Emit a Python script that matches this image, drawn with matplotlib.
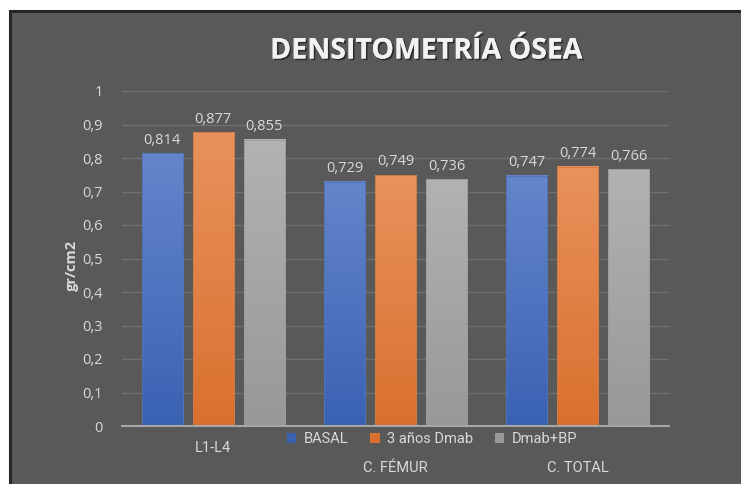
import numpy as np
import matplotlib
matplotlib.use('Agg')
import matplotlib.pyplot as plt
from matplotlib.patches import Rectangle
from matplotlib.colors import LinearSegmentedColormap
import matplotlib.patheffects as pe

categories = ['L1-L4', 'C. FÉMUR', 'C. TOTAL']
series_names = ['BASAL', '3 años Dmab', 'Dmab+BP']
basal = [0.814, 0.729, 0.747]
dmab_3 = [0.877, 0.749, 0.774]
dmab_bp = [0.855, 0.736, 0.766]
y_ticks = [0, 0.1, 0.2, 0.3, 0.4, 0.5, 0.6, 0.7, 0.8, 0.9, 1]

bg = '#595959'
txt = '#d9d9d9'
# (top, bottom, edge) colours for the gradient fill
colours = [('#6585cb', '#3a62b3', '#5373b8'),
           ('#e9925c', '#d9702f', '#d07a45'),
           ('#b2b2b2', '#989898', '#9c9c9c')]
narrow = ['Roboto', 'DejaVu Sans']

plt.rcParams['font.family'] = ['Open Sans', 'DejaVu Sans']

fig = plt.figure(figsize=(7.41, 4.84), dpi=100, facecolor='white')
fig.patches.append(Rectangle((9.5 / 741, -0.1), 1.0, 1 - 11.5 / 484 + 0.1,
                             transform=fig.transFigure, facecolor=bg,
                             edgecolor='#262626', linewidth=2.2, zorder=-5))

ax = fig.add_axes([122 / 741, 1 - 426 / 484, 547 / 741, 335 / 484])
ax.set_facecolor('none')

x = np.arange(len(categories))
width = 0.225
step = 0.28
all_series = [basal, dmab_3, dmab_bp]

for i, vals in enumerate(all_series):
    top_c, bot_c, edge_c = colours[i]
    cmap = LinearSegmentedColormap.from_list('g%d' % i, [bot_c, top_c])
    bars = ax.bar(x + (i - 1) * step, vals, width, facecolor='none',
                  edgecolor=edge_c, linewidth=0.7, zorder=3, label=series_names[i])
    for b in bars:
        x0, h = b.get_x(), b.get_height()
        grad = np.linspace(0, 1, 256).reshape(-1, 1)
        ax.imshow(grad, cmap=cmap, origin='lower', aspect='auto', interpolation='bilinear',
                  extent=[x0, x0 + b.get_width(), 0, h], zorder=2)
        ax.text(x0 + b.get_width() / 2, h + 0.017, ('%.3f' % h).replace('.', ','),
                ha='center', va='bottom', color=txt, fontsize=10.5)

ax.set_xlim(-0.5, 2.5)
ax.set_ylim(0, 1)
ax.set_yticks(y_ticks)
ax.set_yticklabels([('%g' % v).replace('.', ',') for v in y_ticks])
ax.yaxis.grid(True, color='#6f6f6f', linewidth=1.0, zorder=0)
ax.set_axisbelow(True)
for s in ['top', 'right', 'left']:
    ax.spines[s].set_visible(False)
ax.spines['bottom'].set_color('#a6a6a6')
ax.spines['bottom'].set_linewidth(1.5)
ax.spines['bottom'].set_zorder(4)
ax.tick_params(axis='y', length=0, pad=14, labelcolor=txt, labelsize=10.5)
ax.tick_params(axis='x', length=0, pad=11, labelcolor=txt, labelsize=10.5)
ax.set_xticks(x)
ax.set_xticklabels(categories)
for lab in ax.get_xticklabels():
    lab.set_family(narrow)
# staggered category labels
ticks = ax.xaxis.get_major_ticks()
ticks[1].set_pad(25)
ticks[2].set_pad(25)

fig.text(72 / 741, 1 - 265 / 484, 'gr/cm2', rotation=90, ha='center', va='center',
         color=txt, fontsize=10.5, fontweight='bold')

title = fig.text(426 / 741, 1 - 51 / 484, 'DENSITOMETRÍA ÓSEA', ha='center', va='center',
                 color='#f2f2f2', fontsize=20.5, fontweight='bold')
title.set_path_effects([pe.withSimplePatchShadow(offset=(1.2, -1.2), shadow_rgbFace='black', alpha=0.5),
                        pe.Normal()])

handles = [Rectangle((0, 0), 1, 1, facecolor=c[1], edgecolor='none') for c in colours]
leg = fig.legend(handles, series_names, loc='center', bbox_to_anchor=(432 / 741, 1 - 439 / 484),
                 ncol=3, frameon=False, handlelength=0.65, handleheight=0.65,
                 handletextpad=0.5, columnspacing=1.5,
                 prop={'family': narrow, 'size': 10.5})
for t in leg.get_texts():
    t.set_color(txt)

fig.savefig('out.png', dpi=100, facecolor='white')
